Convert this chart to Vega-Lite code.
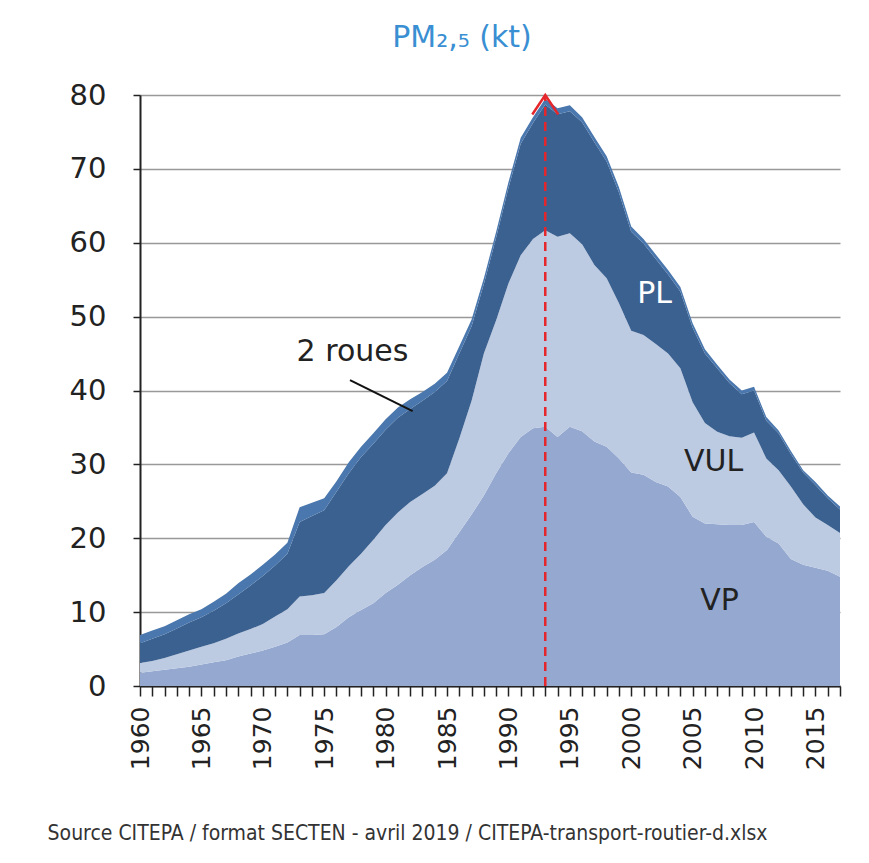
{
  "$schema": "https://vega.github.io/schema/vega-lite/v6.json",
  "width": 700,
  "height": 591,
  "autosize": {"type": "none"},
  "padding": {"left": 140, "top": 95, "right": 29, "bottom": 177},
  "background": "white",
  "title": {"text": "PM₂,₅ (kt)", "color": "#3a8fd3", "fontSize": 30, "fontWeight": "normal", "font": "DejaVu Sans", "anchor": "middle", "dx": -28, "offset": 28},
  "config": {"view": {"stroke": null}, "font": "DejaVu Sans"},
  "datasets": {
    "pm": [
      {"year":1960,"cat":"VP","ord":1,"kt":1.8},{"year":1960,"cat":"VUL","ord":2,"kt":1.3},{"year":1960,"cat":"PL","ord":3,"kt":2.7},{"year":1960,"cat":"2 roues","ord":4,"kt":1.1},
      {"year":1961,"cat":"VP","ord":1,"kt":2.0},{"year":1961,"cat":"VUL","ord":2,"kt":1.4},{"year":1961,"cat":"PL","ord":3,"kt":3.0},{"year":1961,"cat":"2 roues","ord":4,"kt":1.1},
      {"year":1962,"cat":"VP","ord":1,"kt":2.2},{"year":1962,"cat":"VUL","ord":2,"kt":1.6},{"year":1962,"cat":"PL","ord":3,"kt":3.2},{"year":1962,"cat":"2 roues","ord":4,"kt":1.1},
      {"year":1963,"cat":"VP","ord":1,"kt":2.4},{"year":1963,"cat":"VUL","ord":2,"kt":1.9},{"year":1963,"cat":"PL","ord":3,"kt":3.5},{"year":1963,"cat":"2 roues","ord":4,"kt":1.1},
      {"year":1964,"cat":"VP","ord":1,"kt":2.6},{"year":1964,"cat":"VUL","ord":2,"kt":2.2},{"year":1964,"cat":"PL","ord":3,"kt":3.8},{"year":1964,"cat":"2 roues","ord":4,"kt":1.1},
      {"year":1965,"cat":"VP","ord":1,"kt":2.9},{"year":1965,"cat":"VUL","ord":2,"kt":2.4},{"year":1965,"cat":"PL","ord":3,"kt":4.0},{"year":1965,"cat":"2 roues","ord":4,"kt":1.1},
      {"year":1966,"cat":"VP","ord":1,"kt":3.2},{"year":1966,"cat":"VUL","ord":2,"kt":2.6},{"year":1966,"cat":"PL","ord":3,"kt":4.4},{"year":1966,"cat":"2 roues","ord":4,"kt":1.2},
      {"year":1967,"cat":"VP","ord":1,"kt":3.5},{"year":1967,"cat":"VUL","ord":2,"kt":2.9},{"year":1967,"cat":"PL","ord":3,"kt":4.8},{"year":1967,"cat":"2 roues","ord":4,"kt":1.3},
      {"year":1968,"cat":"VP","ord":1,"kt":4.0},{"year":1968,"cat":"VUL","ord":2,"kt":3.1},{"year":1968,"cat":"PL","ord":3,"kt":5.3},{"year":1968,"cat":"2 roues","ord":4,"kt":1.5},
      {"year":1969,"cat":"VP","ord":1,"kt":4.4},{"year":1969,"cat":"VUL","ord":2,"kt":3.3},{"year":1969,"cat":"PL","ord":3,"kt":5.9},{"year":1969,"cat":"2 roues","ord":4,"kt":1.5},
      {"year":1970,"cat":"VP","ord":1,"kt":4.8},{"year":1970,"cat":"VUL","ord":2,"kt":3.6},{"year":1970,"cat":"PL","ord":3,"kt":6.5},{"year":1970,"cat":"2 roues","ord":4,"kt":1.5},
      {"year":1971,"cat":"VP","ord":1,"kt":5.3},{"year":1971,"cat":"VUL","ord":2,"kt":4.1},{"year":1971,"cat":"PL","ord":3,"kt":6.9},{"year":1971,"cat":"2 roues","ord":4,"kt":1.5},
      {"year":1972,"cat":"VP","ord":1,"kt":5.9},{"year":1972,"cat":"VUL","ord":2,"kt":4.5},{"year":1972,"cat":"PL","ord":3,"kt":7.5},{"year":1972,"cat":"2 roues","ord":4,"kt":1.5},
      {"year":1973,"cat":"VP","ord":1,"kt":6.9},{"year":1973,"cat":"VUL","ord":2,"kt":5.2},{"year":1973,"cat":"PL","ord":3,"kt":10.1},{"year":1973,"cat":"2 roues","ord":4,"kt":2.0},
      {"year":1974,"cat":"VP","ord":1,"kt":6.9},{"year":1974,"cat":"VUL","ord":2,"kt":5.4},{"year":1974,"cat":"PL","ord":3,"kt":10.7},{"year":1974,"cat":"2 roues","ord":4,"kt":1.8},
      {"year":1975,"cat":"VP","ord":1,"kt":7.0},{"year":1975,"cat":"VUL","ord":2,"kt":5.6},{"year":1975,"cat":"PL","ord":3,"kt":11.2},{"year":1975,"cat":"2 roues","ord":4,"kt":1.6},
      {"year":1976,"cat":"VP","ord":1,"kt":8.0},{"year":1976,"cat":"VUL","ord":2,"kt":6.3},{"year":1976,"cat":"PL","ord":3,"kt":12.0},{"year":1976,"cat":"2 roues","ord":4,"kt":1.4},
      {"year":1977,"cat":"VP","ord":1,"kt":9.3},{"year":1977,"cat":"VUL","ord":2,"kt":6.9},{"year":1977,"cat":"PL","ord":3,"kt":12.6},{"year":1977,"cat":"2 roues","ord":4,"kt":1.5},
      {"year":1978,"cat":"VP","ord":1,"kt":10.3},{"year":1978,"cat":"VUL","ord":2,"kt":7.6},{"year":1978,"cat":"PL","ord":3,"kt":13.1},{"year":1978,"cat":"2 roues","ord":4,"kt":1.4},
      {"year":1979,"cat":"VP","ord":1,"kt":11.2},{"year":1979,"cat":"VUL","ord":2,"kt":8.6},{"year":1979,"cat":"PL","ord":3,"kt":13.0},{"year":1979,"cat":"2 roues","ord":4,"kt":1.4},
      {"year":1980,"cat":"VP","ord":1,"kt":12.6},{"year":1980,"cat":"VUL","ord":2,"kt":9.2},{"year":1980,"cat":"PL","ord":3,"kt":12.9},{"year":1980,"cat":"2 roues","ord":4,"kt":1.4},
      {"year":1981,"cat":"VP","ord":1,"kt":13.7},{"year":1981,"cat":"VUL","ord":2,"kt":9.8},{"year":1981,"cat":"PL","ord":3,"kt":12.8},{"year":1981,"cat":"2 roues","ord":4,"kt":1.4},
      {"year":1982,"cat":"VP","ord":1,"kt":15.0},{"year":1982,"cat":"VUL","ord":2,"kt":9.9},{"year":1982,"cat":"PL","ord":3,"kt":12.6},{"year":1982,"cat":"2 roues","ord":4,"kt":1.3},
      {"year":1983,"cat":"VP","ord":1,"kt":16.1},{"year":1983,"cat":"VUL","ord":2,"kt":9.9},{"year":1983,"cat":"PL","ord":3,"kt":12.6},{"year":1983,"cat":"2 roues","ord":4,"kt":1.2},
      {"year":1984,"cat":"VP","ord":1,"kt":17.1},{"year":1984,"cat":"VUL","ord":2,"kt":10.0},{"year":1984,"cat":"PL","ord":3,"kt":12.7},{"year":1984,"cat":"2 roues","ord":4,"kt":1.1},
      {"year":1985,"cat":"VP","ord":1,"kt":18.4},{"year":1985,"cat":"VUL","ord":2,"kt":10.4},{"year":1985,"cat":"PL","ord":3,"kt":12.5},{"year":1985,"cat":"2 roues","ord":4,"kt":1.1},
      {"year":1986,"cat":"VP","ord":1,"kt":20.8},{"year":1986,"cat":"VUL","ord":2,"kt":12.7},{"year":1986,"cat":"PL","ord":3,"kt":11.5},{"year":1986,"cat":"2 roues","ord":4,"kt":1.0},
      {"year":1987,"cat":"VP","ord":1,"kt":23.2},{"year":1987,"cat":"VUL","ord":2,"kt":15.4},{"year":1987,"cat":"PL","ord":3,"kt":10.1},{"year":1987,"cat":"2 roues","ord":4,"kt":0.9},
      {"year":1988,"cat":"VP","ord":1,"kt":25.8},{"year":1988,"cat":"VUL","ord":2,"kt":19.2},{"year":1988,"cat":"PL","ord":3,"kt":9.4},{"year":1988,"cat":"2 roues","ord":4,"kt":0.8},
      {"year":1989,"cat":"VP","ord":1,"kt":28.8},{"year":1989,"cat":"VUL","ord":2,"kt":20.7},{"year":1989,"cat":"PL","ord":3,"kt":11.2},{"year":1989,"cat":"2 roues","ord":4,"kt":0.8},
      {"year":1990,"cat":"VP","ord":1,"kt":31.5},{"year":1990,"cat":"VUL","ord":2,"kt":23.0},{"year":1990,"cat":"PL","ord":3,"kt":12.9},{"year":1990,"cat":"2 roues","ord":4,"kt":0.8},
      {"year":1991,"cat":"VP","ord":1,"kt":33.7},{"year":1991,"cat":"VUL","ord":2,"kt":24.6},{"year":1991,"cat":"PL","ord":3,"kt":15.1},{"year":1991,"cat":"2 roues","ord":4,"kt":0.8},
      {"year":1992,"cat":"VP","ord":1,"kt":34.9},{"year":1992,"cat":"VUL","ord":2,"kt":25.6},{"year":1992,"cat":"PL","ord":3,"kt":15.7},{"year":1992,"cat":"2 roues","ord":4,"kt":0.8},
      {"year":1993,"cat":"VP","ord":1,"kt":35.1},{"year":1993,"cat":"VUL","ord":2,"kt":26.6},{"year":1993,"cat":"PL","ord":3,"kt":17.0},{"year":1993,"cat":"2 roues","ord":4,"kt":0.8},
      {"year":1994,"cat":"VP","ord":1,"kt":33.7},{"year":1994,"cat":"VUL","ord":2,"kt":27.1},{"year":1994,"cat":"PL","ord":3,"kt":16.6},{"year":1994,"cat":"2 roues","ord":4,"kt":0.8},
      {"year":1995,"cat":"VP","ord":1,"kt":35.1},{"year":1995,"cat":"VUL","ord":2,"kt":26.2},{"year":1995,"cat":"PL","ord":3,"kt":16.5},{"year":1995,"cat":"2 roues","ord":4,"kt":0.8},
      {"year":1996,"cat":"VP","ord":1,"kt":34.5},{"year":1996,"cat":"VUL","ord":2,"kt":25.3},{"year":1996,"cat":"PL","ord":3,"kt":16.5},{"year":1996,"cat":"2 roues","ord":4,"kt":0.7},
      {"year":1997,"cat":"VP","ord":1,"kt":33.1},{"year":1997,"cat":"VUL","ord":2,"kt":23.9},{"year":1997,"cat":"PL","ord":3,"kt":16.6},{"year":1997,"cat":"2 roues","ord":4,"kt":0.7},
      {"year":1998,"cat":"VP","ord":1,"kt":32.4},{"year":1998,"cat":"VUL","ord":2,"kt":22.8},{"year":1998,"cat":"PL","ord":3,"kt":15.8},{"year":1998,"cat":"2 roues","ord":4,"kt":0.7},
      {"year":1999,"cat":"VP","ord":1,"kt":30.8},{"year":1999,"cat":"VUL","ord":2,"kt":21.0},{"year":1999,"cat":"PL","ord":3,"kt":15.0},{"year":1999,"cat":"2 roues","ord":4,"kt":0.7},
      {"year":2000,"cat":"VP","ord":1,"kt":28.9},{"year":2000,"cat":"VUL","ord":2,"kt":19.2},{"year":2000,"cat":"PL","ord":3,"kt":13.4},{"year":2000,"cat":"2 roues","ord":4,"kt":0.7},
      {"year":2001,"cat":"VP","ord":1,"kt":28.6},{"year":2001,"cat":"VUL","ord":2,"kt":18.9},{"year":2001,"cat":"PL","ord":3,"kt":12.4},{"year":2001,"cat":"2 roues","ord":4,"kt":0.6},
      {"year":2002,"cat":"VP","ord":1,"kt":27.6},{"year":2002,"cat":"VUL","ord":2,"kt":18.7},{"year":2002,"cat":"PL","ord":3,"kt":11.5},{"year":2002,"cat":"2 roues","ord":4,"kt":0.6},
      {"year":2003,"cat":"VP","ord":1,"kt":27.0},{"year":2003,"cat":"VUL","ord":2,"kt":18.0},{"year":2003,"cat":"PL","ord":3,"kt":10.7},{"year":2003,"cat":"2 roues","ord":4,"kt":0.6},
      {"year":2004,"cat":"VP","ord":1,"kt":25.6},{"year":2004,"cat":"VUL","ord":2,"kt":17.4},{"year":2004,"cat":"PL","ord":3,"kt":10.4},{"year":2004,"cat":"2 roues","ord":4,"kt":0.6},
      {"year":2005,"cat":"VP","ord":1,"kt":22.9},{"year":2005,"cat":"VUL","ord":2,"kt":15.5},{"year":2005,"cat":"PL","ord":3,"kt":10.1},{"year":2005,"cat":"2 roues","ord":4,"kt":0.6},
      {"year":2006,"cat":"VP","ord":1,"kt":22.0},{"year":2006,"cat":"VUL","ord":2,"kt":13.6},{"year":2006,"cat":"PL","ord":3,"kt":9.4},{"year":2006,"cat":"2 roues","ord":4,"kt":0.6},
      {"year":2007,"cat":"VP","ord":1,"kt":21.9},{"year":2007,"cat":"VUL","ord":2,"kt":12.5},{"year":2007,"cat":"PL","ord":3,"kt":8.6},{"year":2007,"cat":"2 roues","ord":4,"kt":0.5},
      {"year":2008,"cat":"VP","ord":1,"kt":21.8},{"year":2008,"cat":"VUL","ord":2,"kt":12.0},{"year":2008,"cat":"PL","ord":3,"kt":7.2},{"year":2008,"cat":"2 roues","ord":4,"kt":0.5},
      {"year":2009,"cat":"VP","ord":1,"kt":21.8},{"year":2009,"cat":"VUL","ord":2,"kt":11.8},{"year":2009,"cat":"PL","ord":3,"kt":5.9},{"year":2009,"cat":"2 roues","ord":4,"kt":0.5},
      {"year":2010,"cat":"VP","ord":1,"kt":22.2},{"year":2010,"cat":"VUL","ord":2,"kt":12.1},{"year":2010,"cat":"PL","ord":3,"kt":5.7},{"year":2010,"cat":"2 roues","ord":4,"kt":0.5},
      {"year":2011,"cat":"VP","ord":1,"kt":20.2},{"year":2011,"cat":"VUL","ord":2,"kt":10.6},{"year":2011,"cat":"PL","ord":3,"kt":5.1},{"year":2011,"cat":"2 roues","ord":4,"kt":0.5},
      {"year":2012,"cat":"VP","ord":1,"kt":19.3},{"year":2012,"cat":"VUL","ord":2,"kt":9.9},{"year":2012,"cat":"PL","ord":3,"kt":5.0},{"year":2012,"cat":"2 roues","ord":4,"kt":0.4},
      {"year":2013,"cat":"VP","ord":1,"kt":17.2},{"year":2013,"cat":"VUL","ord":2,"kt":9.8},{"year":2013,"cat":"PL","ord":3,"kt":4.4},{"year":2013,"cat":"2 roues","ord":4,"kt":0.4},
      {"year":2014,"cat":"VP","ord":1,"kt":16.4},{"year":2014,"cat":"VUL","ord":2,"kt":8.2},{"year":2014,"cat":"PL","ord":3,"kt":4.3},{"year":2014,"cat":"2 roues","ord":4,"kt":0.3},
      {"year":2015,"cat":"VP","ord":1,"kt":16.0},{"year":2015,"cat":"VUL","ord":2,"kt":6.8},{"year":2015,"cat":"PL","ord":3,"kt":4.4},{"year":2015,"cat":"2 roues","ord":4,"kt":0.4},
      {"year":2016,"cat":"VP","ord":1,"kt":15.6},{"year":2016,"cat":"VUL","ord":2,"kt":6.2},{"year":2016,"cat":"PL","ord":3,"kt":3.6},{"year":2016,"cat":"2 roues","ord":4,"kt":0.4},
      {"year":2017,"cat":"VP","ord":1,"kt":14.8},{"year":2017,"cat":"VUL","ord":2,"kt":5.9},{"year":2017,"cat":"PL","ord":3,"kt":3.2},{"year":2017,"cat":"2 roues","ord":4,"kt":0.4}
    ],
    "peak": [{"year": 1993, "y0": 0, "y1": 80}],
    "leader": [{"x0": 1977.1, "y0": 41.4, "x1": 1982.2, "y1": 37.2}],
    "labels": [
      {"label": "2 roues", "year": 1977.3, "kt": 45.2},
      {"label": "PL", "year": 2001.9, "kt": 53.1},
      {"label": "VUL", "year": 2006.7, "kt": 30.3},
      {"label": "VP", "year": 2007.2, "kt": 11.5}
    ]
  },
  "layer": [
    {
      "data": {"name": "pm"},
      "mark": {"type": "area", "interpolate": "linear"},
      "encoding": {
        "x": {
          "field": "year", "type": "quantitative",
          "scale": {"domain": [1960, 2017], "nice": false, "zero": false},
          "axis": {
            "tickCount": 57,
            "labelExpr": "datum.value % 5 === 0 ? format(datum.value, 'd') : ''",
            "labelAngle": -90, "labelFontSize": 25, "labelColor": "#222222", "labelPadding": 10,
            "labelOverlap": false, "labelFlush": false,
            "tickSize": 10, "tickColor": "#222222", "tickWidth": 1.5,
            "domainColor": "#222222", "domainWidth": 2, "grid": false,
            "title": "Source CITEPA / format SECTEN - avril 2019 / CITEPA-transport-routier-d.xlsx",
            "titleFont": "DejaVu Sans Condensed", "titleFontSize": 21, "titleFontWeight": "normal",
            "titleColor": "#333333", "titleX": 267, "titleY": 147, "titleAlign": "center", "titleBaseline": "middle"
          }
        },
        "y": {
          "field": "kt", "type": "quantitative", "stack": "zero",
          "scale": {"domain": [0, 80], "nice": false},
          "axis": {
            "tickCount": 8,
            "grid": true, "gridColor": "#999999", "gridWidth": 1.5,
            "labelFontSize": 29, "labelColor": "#222222", "labelPadding": 27, "labelFlush": false,
            "tickSize": 7, "tickColor": "#222222", "tickWidth": 1.5,
            "domainColor": "#222222", "domainWidth": 2, "title": null
          }
        },
        "color": {
          "field": "cat", "type": "nominal",
          "scale": {"domain": ["VP", "VUL", "PL", "2 roues"], "range": ["#95a9d0", "#bccae2", "#3b6190", "#4a77ad"]},
          "legend": null
        },
        "order": {"field": "ord", "type": "quantitative"}
      }
    },
    {
      "data": {"name": "peak"},
      "mark": {"type": "rule", "color": "#e5262b", "strokeWidth": 2.5, "strokeDash": [9, 6]},
      "encoding": {
        "x": {"field": "year", "type": "quantitative"},
        "y": {"field": "y0", "type": "quantitative"},
        "y2": {"field": "y1"}
      }
    },
    {
      "data": {"name": "peak"},
      "mark": {"type": "point", "shape": "M -1 1.5 L 0 0 L 1 1.5", "filled": false, "stroke": "#e5262b", "strokeWidth": 2.5, "size": 676, "opacity": 1},
      "encoding": {
        "x": {"field": "year", "type": "quantitative"},
        "y": {"field": "y1", "type": "quantitative"}
      }
    },
    {
      "data": {"name": "leader"},
      "mark": {"type": "rule", "color": "#111111", "strokeWidth": 2},
      "encoding": {
        "x": {"field": "x0", "type": "quantitative"},
        "x2": {"field": "x1"},
        "y": {"field": "y0", "type": "quantitative"},
        "y2": {"field": "y1"}
      }
    },
    {
      "data": {"name": "labels"},
      "mark": {"type": "text", "fontSize": 30, "font": "DejaVu Sans", "align": "center", "baseline": "middle"},
      "encoding": {
        "x": {"field": "year", "type": "quantitative"},
        "y": {"field": "kt", "type": "quantitative"},
        "text": {"field": "label"},
        "color": {"condition": {"test": "datum.label === 'PL'", "value": "#ffffff"}, "value": "#222222"}
      }
    }
  ]
}
